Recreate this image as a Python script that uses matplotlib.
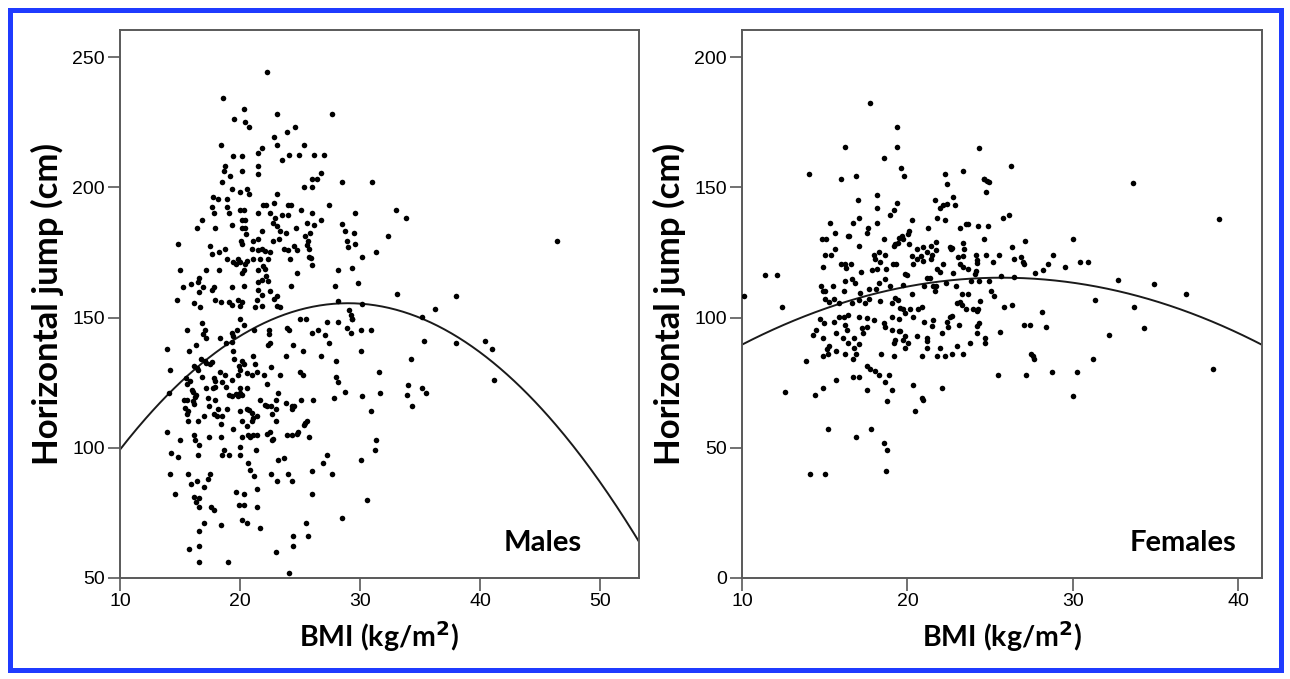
import numpy as np
import matplotlib
matplotlib.use("Agg")
import matplotlib.pyplot as plt
from matplotlib.patches import Rectangle

# ---- data (BMI in kg/m2, jump in cm) ----
male_bmi = [
    18.56, 20.34, 19.5, 20.42, 20.73, 18.39, 19.4, 20.2, 18.75, 18.67, 20.2, 19.2, 18.47, 19.3, 20.03,
    20.6, 20.75, 17.75, 18.17, 18.9, 17.67, 17.86, 18.9, 19.06, 20.0, 20.34, 16.84, 16.42, 17.95, 19.3,
    20.2, 20.42, 20.2, 20.42, 20.5, 14.86, 17.53, 17.64, 18.25, 18.78, 20.14, 20.06, 21.06, 20.98, 18.9,
    19.4, 19.86, 19.7, 20.03, 20.42, 20.6, 21.1, 20.34, 20.2, 14.97, 17.14, 18.28, 16.6, 20.34, 15.28,
    15.92, 16.5, 16.9, 16.6, 17.7, 17.86, 19.36, 14.75, 16.14, 16.7, 17.9, 18.4, 19.1, 19.3, 19.8,
    20.2, 20.0, 21.28,
    # lower left block
    16.8, 15.6, 16.9, 17.17, 17.1, 18.3, 19.3, 19.4, 19.75, 20.0, 20.34, 21.17, 13.95, 15.78, 16.3,
    18.84, 19.36, 19.4, 16.75, 17.2, 17.7, 17.5, 17.1, 19.5, 19.9, 20.14, 20.36, 21.06, 21.25, 14.14,
    16.17, 16.5, 16.4, 15.5, 15.6, 15.8, 16.8, 17.86, 17.92, 18.3, 18.5, 18.75, 18.8, 19.36, 19.86,
    20.0, 20.56, 17.92, 17.78, 17.2, 21.0, 21.4, 14.1, 15.97, 16.1, 16.34, 16.25, 19.1, 19.3, 19.67,
    19.8, 20.0, 20.14, 20.0, 20.56, 15.36, 15.56, 16.06, 16.17, 17.3, 17.4, 17.92, 18.2, 18.9, 15.42,
    15.64, 15.56, 20.0, 20.56, 20.75, 21.0, 15.7, 16.5, 17.03, 17.86, 18.06, 18.5, 18.4, 19.4, 20.14,
    20.6, 21.0, 21.1, 21.4, 13.95, 14.97, 16.2, 16.25, 16.6, 17.45, 18.4, 20.14, 20.7, 20.84, 21.1,
    21.4, 14.25, 14.86, 16.5, 18.47, 18.67, 19.1, 20.0, 20.0, 21.3, 14.17, 15.7, 17.5, 17.36, 15.92,
    16.42, 17.03, 20.64, 20.8, 21.17, 14.58, 16.2, 16.34, 16.6, 16.6, 17.6, 17.86, 19.64, 20.34, 19.92,
    20.34, 21.4, 21.45, 17.0, 18.4, 16.6, 20.2, 20.56, 15.78, 16.6, 16.6, 18.97,
    # upper middle block
    22.28, 23.08, 27.64, 24.55, 23.94, 22.86, 23.08, 21.86, 21.53, 24.08, 24.94, 26.2, 27.0, 23.53, 25.36,
    21.53, 21.47, 26.72, 26.44, 25.97, 25.36, 25.97, 28.53, 30.97, 23.11, 21.94, 22.2, 22.86, 24.03, 24.25,
    27.4, 21.53, 22.5, 22.9, 23.53, 24.03, 25.06, 25.97, 29.58, 21.86, 22.78, 23.06, 23.33, 23.8, 24.67,
    25.6, 26.2, 26.72, 21.47, 22.72, 23.28, 24.03, 23.7, 24.53, 24.72, 25.42, 25.64, 25.83, 25.56, 25.75,
    25.92, 25.75, 28.53, 28.75, 29.5, 28.89, 28.97, 29.58, 32.36, 31.3, 30.2, 21.47, 21.8, 22.08, 22.5,
    21.67, 22.36, 21.94, 24.17, 25.97, 21.53, 22.08, 22.2, 21.8, 21.47, 22.3, 22.5, 21.53, 21.8, 22.86,
    23.1, 21.4, 24.72, 24.25, 28.14, 27.92, 29.36, 29.8, 28.14, 30.2, 21.8, 23.06, 23.33, 29.08, 29.25,
    29.36,
    # lower middle block
    25.0, 25.47, 27.22, 28.2, 28.9, 29.3, 29.22, 23.9, 24.1, 22.44, 22.42, 22.5, 22.36, 25.97, 26.53,
    27.08, 27.42, 30.08, 30.92, 30.08, 24.44, 25.28, 23.8, 26.72, 28.0, 22.58, 22.03, 23.33, 25.0, 25.28,
    22.28, 28.0, 28.14, 28.75, 27.83, 30.2, 31.58, 31.64, 30.92, 21.67, 22.08, 22.22, 22.58, 23.0, 23.0,
    22.7, 23.2, 23.83, 24.3, 24.36, 24.53, 25.06, 26.1, 22.97, 25.42, 25.56, 25.36, 22.28, 22.5, 22.7,
    22.78, 23.9, 24.3, 24.72, 24.86, 25.75, 31.3, 31.25, 23.14, 23.7, 22.58, 23.1, 24.03, 24.36, 26.03,
    26.95, 27.22, 27.64, 30.08, 21.67, 25.97, 30.6, 28.47, 25.47, 24.44, 25.64, 24.44, 22.97, 24.1,
    # right tail
    32.97, 33.8, 46.44, 33.06, 38.03, 36.25, 35.14, 35.33, 38.03, 40.39, 41.0, 34.22, 41.19, 34.0, 33.9,
    35.14, 35.47, 34.3,
]
male_jump = [
    234.2, 230.2, 226.1, 225.2, 223.2, 216.1, 212.2, 212.2, 208.2, 206.2, 206.2, 204.3, 202.1, 199.2, 198.2,
    199.5, 197.3, 196.4, 195.4, 195.4, 192.3, 190.2, 192.3, 190.2, 191.3, 191.3, 187.3, 184.2, 184.2, 185.4,
    187.3, 187.3, 184.5, 184.5, 182.1, 178.3, 177.4, 174.3, 175.2, 176.2, 178.3, 179.2, 179.2, 176.4, 172.3,
    171.3, 172.3, 170.4, 171.3, 170.7, 171.9, 172.3, 168.2, 167.1, 168.2, 168.2, 168.2, 165.0, 162.0, 161.6,
    162.7, 163.7, 161.6, 159.8, 160.7, 161.6, 161.6, 156.9, 155.6, 154.0, 156.9, 155.9, 155.9, 155.0, 156.9,
    156.0, 154.3, 154.0,
    148.0, 145.2, 143.5, 142.2, 145.2, 142.2, 144.1, 142.8, 145.2, 149.3, 147.3, 145.2, 138.1, 137.1, 139.3,
    140.3, 140.7, 137.1, 134.1, 132.6, 133.0, 132.0, 133.5, 134.1, 131.3, 133.2, 132.3, 135.2, 132.3, 130.0,
    131.3, 130.0, 130.7, 126.8, 124.6, 125.5, 127.1, 126.8, 125.5, 129.1, 125.2, 128.1, 123.4, 126.2, 128.1,
    129.8, 128.7, 123.4, 123.0, 123.0, 128.1, 129.1, 121.1, 122.3, 121.3, 120.4, 119.5, 120.4, 120.0, 120.8,
    120.0, 121.1, 120.4, 123.0, 123.0, 118.2, 118.5, 117.8, 116.8, 119.1, 116.2, 118.2, 115.0, 115.0, 115.3,
    114.0, 113.1, 114.3, 115.0, 114.6, 113.4, 110.1, 110.1, 112.1, 113.1, 112.1, 112.1, 109.1, 107.3, 110.1,
    108.2, 110.1, 111.4, 112.3, 106.0, 103.1, 105.0, 103.1, 101.2, 104.1, 104.1, 104.1, 105.0, 104.1, 105.0,
    105.0, 98.0, 96.3, 97.1, 97.1, 99.0, 97.1, 100.3, 97.1, 99.0, 90.0, 90.0, 90.0, 88.1, 86.2,
    87.1, 85.1, 94.1, 91.3, 89.3, 82.2, 81.0, 79.1, 77.2, 80.7, 77.2, 76.2, 83.2, 82.2, 78.1,
    78.1, 84.1, 77.2, 71.0, 70.2, 68.2, 72.3, 71.3, 61.2, 62.1, 56.0, 56.0,
    244.3, 228.3, 228.3, 223.2, 221.4, 219.3, 216.3, 215.2, 213.3, 212.3, 212.3, 212.3, 212.3, 210.4, 216.3,
    208.2, 205.2, 205.4, 203.3, 203.3, 200.2, 200.2, 202.1, 202.1, 197.3, 193.2, 193.2, 194.1, 193.2, 193.2,
    193.2, 190.2, 190.2, 188.3, 189.3, 189.3, 191.3, 190.2, 190.2, 183.2, 186.4, 185.1, 183.2, 182.3, 184.2,
    186.4, 185.4, 187.3, 180.2, 179.3, 180.2, 176.1, 176.4, 177.4, 176.1, 181.2, 179.3, 182.3, 178.0, 176.4,
    172.9, 173.2, 186.1, 183.2, 182.3, 179.3, 177.1, 178.3, 181.3, 175.1, 173.2, 176.1, 176.4, 175.5, 175.1,
    172.3, 172.3, 169.7, 172.3, 170.1, 168.4, 168.7, 166.1, 164.6, 163.6, 163.9, 160.1, 160.7, 158.8, 157.1,
    158.2, 156.9, 167.1, 162.0, 168.2, 162.0, 169.1, 163.1, 156.2, 155.2, 154.3, 154.3, 154.1, 153.0, 151.1,
    149.5,
    149.3, 149.3, 148.2, 148.2, 146.0, 149.3, 144.1, 146.0, 145.2, 145.2, 143.5, 140.3, 139.3, 144.1, 145.2,
    143.2, 140.3, 145.2, 145.2, 137.1, 139.3, 137.1, 135.1, 135.1, 133.2, 131.1, 128.1, 128.1, 129.1, 128.1,
    124.3, 127.2, 125.1, 121.3, 119.1, 120.0, 129.1, 121.1, 114.3, 118.2, 116.6, 115.9, 116.2, 118.2, 115.0,
    113.1, 121.1, 117.0, 115.9, 114.9, 116.2, 118.2, 118.2, 110.1, 109.5, 110.1, 108.9, 105.4, 106.0, 102.8,
    103.5, 105.0, 105.0, 105.3, 106.0, 104.1, 103.1, 99.3, 95.2, 96.0, 90.0, 87.1, 90.0, 87.1, 91.2,
    94.1, 97.1, 90.0, 95.2, 69.1, 82.2, 80.0, 73.0, 71.0, 66.2, 66.2, 62.1, 60.1, 52.1,
    191.3, 188.1, 179.2, 159.1, 158.2, 153.2, 150.1, 141.1, 140.1, 141.1, 138.1, 134.1, 126.1, 124.2, 120.1,
    122.9, 121.1, 116.0,
]

female_bmi = [
    17.75, 19.37, 19.37, 16.24, 18.58, 14.03, 15.98, 16.89, 18.16, 17.0, 18.16, 17.07, 18.18, 19.37, 19.16,
    18.96, 15.3, 16.69, 15.6, 14.83, 15.08, 16.4, 16.49, 17.6, 17.57, 17.09, 18.6, 19.26, 19.5, 15.0,
    15.4, 15.6, 14.9, 16.0, 16.2, 16.6, 16.28, 17.19, 17.96, 18.26, 18.62, 18.06, 18.36, 18.7, 18.16,
    17.86, 19.12, 19.33, 19.2, 19.4, 11.41, 12.11, 10.14, 12.42, 14.8, 14.87, 15.04, 15.48, 16.2, 16.65,
    16.8, 16.14, 17.15, 17.65, 18.1, 18.26, 18.66, 18.96, 15.0, 15.28, 15.54, 15.84, 16.65, 17.05, 17.45,
    17.65, 18.36, 19.06, 19.43, 19.22, 14.73, 15.84, 16.14, 16.4, 17.05, 17.55, 19.06, 19.47,
    14.93, 15.54, 16.24, 16.34, 17.25, 17.55, 18.0, 18.56, 18.66, 19.06, 19.47, 19.16, 19.26, 14.29, 14.47,
    14.9, 15.7, 16.08, 16.4, 16.75, 17.05, 17.29, 16.79, 15.28, 15.14, 15.2, 14.9, 15.7, 16.2, 16.89,
    16.69, 18.4, 19.16, 13.89, 17.55, 17.75, 18.06, 18.26, 18.86, 15.7, 16.69, 17.09, 18.66, 12.62, 14.39,
    14.9, 17.55, 19.06, 18.76, 15.2, 16.89, 17.8, 18.6, 18.76, 14.13, 15.0, 18.7,
    24.32, 26.24, 22.25, 22.37, 23.34, 24.65, 24.79, 24.95, 24.75, 24.6, 19.59, 19.79, 21.66, 22.73, 21.97,
    22.13, 22.37, 22.87, 20.25, 21.77, 22.27, 25.75, 26.16, 20.11, 20.05, 21.26, 23.18, 23.52, 23.68, 24.24,
    24.85, 19.65, 19.75, 20.11, 20.6, 20.96, 21.4, 21.73, 22.57, 22.71, 22.63, 23.38, 23.44, 24.65, 26.34,
    27.12, 20.25, 20.56, 20.8, 21.16, 21.46, 20.36, 20.92, 21.4, 21.73, 23.08, 23.38, 24.14, 24.75, 25.55,
    24.22, 24.18, 23.18, 23.34, 24.14, 24.08, 23.68, 25.15, 26.46, 26.86, 27.04, 27.0, 28.81, 28.51, 28.21,
    27.71, 29.52, 19.85, 19.99, 21.97, 22.17, 22.73, 21.77, 19.71, 20.25, 21.0, 21.2, 21.36, 21.56, 21.66,
    21.73, 22.33, 22.93, 23.82, 24.34, 24.95, 25.63, 26.44, 25.03, 25.25, 23.28, 23.68,
    19.55, 19.75, 19.85, 20.15, 20.66, 20.86, 20.36, 19.55, 19.85, 19.75, 20.05, 19.85, 20.56, 21.02, 21.56,
    21.46, 22.07, 22.37, 22.47, 22.67, 22.57, 23.14, 22.97, 23.18, 23.28, 23.54, 23.98, 24.18, 24.28, 24.38,
    24.34, 24.22, 24.18, 24.69, 24.69, 23.78, 23.38, 22.97, 22.67, 22.27, 21.97, 21.77, 21.16, 21.16, 21.16,
    20.86, 25.59, 25.85, 26.34, 27.04, 27.4, 28.15, 28.35, 27.45, 27.57, 27.65, 25.49, 27.14, 28.71, 30.22,
    30.02, 31.23, 31.33, 32.2, 33.71, 34.31, 38.48, 20.36, 22.07, 20.86, 20.96, 20.46,
    30.0, 30.4, 30.9, 32.7, 33.6, 34.9, 36.8, 38.8,
]
female_jump = [
    182.3, 173.3, 165.3, 165.3, 161.2, 155.3, 153.2, 154.2, 147.2, 145.3, 142.2, 138.2, 136.2, 144.1, 141.3,
    139.2, 136.3, 136.3, 132.3, 130.3, 130.3, 131.3, 131.3, 134.2, 132.3, 127.4, 130.3, 128.3, 130.4, 124.2,
    124.2, 126.4, 119.4, 120.4, 120.4, 120.4, 119.1, 117.4, 124.2, 125.3, 124.2, 122.3, 121.3, 118.5, 118.5,
    118.2, 120.4, 120.4, 127.4, 128.5, 116.3, 116.3, 108.2, 104.2, 112.3, 110.1, 110.1, 112.3, 114.2, 114.9,
    113.3, 110.1, 109.5, 110.8, 111.0, 113.3, 114.9, 112.1, 107.2, 105.9, 107.2, 105.6, 105.6, 106.7, 105.6,
    107.2, 106.3, 105.6, 106.7, 107.6, 99.5, 100.1, 100.1, 100.8, 100.3, 99.9, 100.3, 99.5,
    97.9, 98.2, 97.3, 95.4, 96.0, 96.4, 98.9, 97.9, 96.4, 95.1, 94.7, 90.2, 91.3, 93.2, 95.1,
    92.1, 94.1, 92.1, 90.2, 92.1, 90.0, 94.1, 88.3, 89.2, 87.9, 86.1, 85.1, 87.0, 86.1, 86.1,
    84.1, 86.1, 85.1, 83.2, 81.3, 80.2, 79.3, 78.0, 78.0, 76.1, 77.1, 77.1, 75.1, 71.3, 70.1,
    72.9, 72.0, 72.0, 68.0, 57.2, 54.1, 57.2, 52.0, 49.2, 40.0, 40.0, 40.9,
    165.2, 158.2, 155.2, 151.4, 156.3, 153.1, 152.4, 152.0, 148.2, 153.3, 157.3, 154.3, 145.1, 146.3, 142.2,
    143.1, 143.5, 143.1, 137.3, 138.1, 137.4, 138.1, 139.2, 133.2, 132.2, 134.2, 134.2, 135.8, 136.1, 135.1,
    135.1, 131.3, 130.0, 128.1, 126.5, 127.2, 127.4, 129.0, 127.2, 126.8, 126.4, 128.5, 126.4, 130.2, 127.2,
    129.2, 123.6, 122.6, 123.8, 125.2, 124.2, 120.4, 121.9, 122.6, 126.1, 123.3, 123.8, 124.0, 124.2, 124.2,
    122.0, 120.8, 120.4, 119.5, 117.8, 116.8, 118.5, 121.3, 122.3, 123.2, 120.4, 121.3, 124.2, 120.4, 118.2,
    117.2, 119.3, 116.9, 116.3, 117.6, 120.4, 117.2, 118.5, 112.4, 109.2, 112.0, 115.2, 115.0, 112.3, 110.1,
    112.0, 113.1, 112.3, 114.2, 114.2, 114.2, 116.1, 115.5, 110.1, 108.2, 109.2, 109.2,
    103.7, 103.1, 101.8, 103.1, 103.1, 104.1, 100.2, 94.7, 93.1, 91.5, 90.2, 88.3, 93.1, 98.2, 99.0,
    96.9, 94.1, 98.2, 96.4, 100.7, 100.2, 97.3, 105.4, 105.9, 105.0, 103.1, 103.1, 102.4, 103.3, 106.3,
    97.9, 96.9, 94.1, 92.2, 90.2, 90.2, 86.1, 89.2, 86.1, 85.1, 88.3, 85.1, 92.2, 90.9, 88.3,
    85.1, 94.3, 104.1, 105.0, 97.3, 97.3, 102.2, 96.3, 86.1, 85.1, 84.1, 78.1, 78.1, 79.1, 79.1,
    70.0, 84.1, 106.9, 93.2, 104.1, 96.1, 80.2, 74.2, 72.9, 69.1, 68.2, 64.2,
    130.0, 121.5, 121.5, 114.6, 151.5, 113.0, 109.0, 138.0,
]

# quadratic fit lines: (bmi at peak, peak jump, curvature)
male_fit = (29.0, 155.5, 0.1557)
female_fit = (25.7, 115.3, 0.1043)

AXIS_GREY = "#595959"
label_font = "Lato"


def draw_panel(ax, bmi, jump, fit, xlim, ylim, xticks, yticks, tag, tag_x):
    ax.scatter(bmi, jump, s=16, color="black", linewidths=0, zorder=3)
    xs = np.linspace(xlim[0], xlim[1], 300)
    x0, peak, k = fit
    ax.plot(xs, peak - k * (xs - x0) ** 2, color="#1a1a1a", lw=1.4, zorder=2)

    ax.set_xlim(*xlim)
    ax.set_ylim(*ylim)
    ax.set_xticks(xticks)
    ax.set_yticks(yticks)
    for s in ax.spines.values():
        s.set_color(AXIS_GREY)
        s.set_linewidth(1.4)
    ax.tick_params(direction="out", length=9, width=1.2, color=AXIS_GREY,
                   labelsize=14, pad=2)
    for lab in ax.get_xticklabels() + ax.get_yticklabels():
        lab.set_fontfamily("Liberation Sans")

    ax.set_xlabel("BMI (kg/m$^{\\mathbf{2}}$)", fontsize=20.5, fontweight="bold",
                  fontfamily=label_font, labelpad=6)
    ax.set_ylabel("Horizontal jump (cm)", fontsize=25, fontweight="bold",
                  fontfamily=label_font, labelpad=6)
    ax.text(tag_x, 0.063, tag, transform=ax.transAxes, ha="center", va="center",
            fontsize=21, fontweight="bold", fontfamily=label_font)


fig = plt.figure(figsize=(12.9, 6.79), dpi=100)
ax1 = fig.add_axes([120 / 1290, 1 - 578 / 679, 519 / 1290, 548 / 679])
ax2 = fig.add_axes([742 / 1290, 1 - 578 / 679, 520 / 1290, 548 / 679])

draw_panel(ax1, male_bmi, male_jump, male_fit, (10, 53.25), (50, 260.4),
           [10, 20, 30, 40, 50], [50, 100, 150, 200, 250], "Males", 0.815)
draw_panel(ax2, female_bmi, female_jump, female_fit, (10, 41.42), (0, 210.4),
           [10, 20, 30, 40], [0, 50, 100, 150, 200], "Females", 0.848)

# blue frame round the whole figure
fig.patches.append(Rectangle((9.5 / 1290, 9.5 / 679), 1 - 19 / 1290, 1 - 19 / 679,
                             transform=fig.transFigure, fill=False,
                             edgecolor="#1f3bff", linewidth=3.6))

fig.savefig("out.png", dpi=100)
